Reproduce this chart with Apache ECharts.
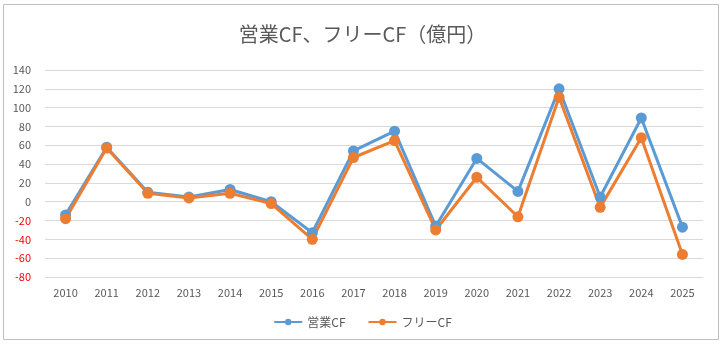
<!DOCTYPE html>
<html>
<head>
<meta charset="utf-8">
<script src="https://cdn.jsdelivr.net/npm/echarts@6/dist/echarts.min.js"></script>
<style>
  html, body {margin: 0; padding: 0; background: #fff;}
  #chart {width: 725px; height: 350px;}
</style>
</head>
<body>
<div id="chart"></div>
<script>
const years = ['2010', '2011', '2012', '2013', '2014', '2015', '2016', '2017',
    '2018', '2019', '2020', '2021', '2022', '2023', '2024', '2025'];
// 営業CF
const operatingCF = [-14, 58, 10, 5, 13, 0, -33, 54, 75, -26, 46, 11, 120, 5, 89, -27];
// フリーCF
const freeCF = [-18, 57, 9, 4, 9, -2, -40, 47, 65, -30, 26, -16, 111, -6, 68, -56];

const font = '"Noto Sans CJK JP", "Noto Sans", sans-serif';
const chart = echarts.init(document.getElementById('chart'));

chart.setOption({
    animation: false,
    textStyle: {fontFamily: font},
    graphic: [{
        type: 'rect',
        shape: {x: 3.5, y: 4.5, width: 715, height: 335},
        style: {fill: 'none', stroke: '#bfbfbf', lineWidth: 1},
        silent: true
    }],
    title: {
        text: '営業CF、フリーCF（億円）',
        left: 'center',
        top: 19,
        textStyle: {fontFamily: font, fontSize: 20, fontWeight: 'normal', color: '#595959'}
    },
    legend: {
        bottom: 17,
        left: 'center',
        itemWidth: 28,
        itemHeight: 8,
        itemGap: 22,
        textStyle: {fontFamily: font, fontSize: 12, color: '#595959'},
        data: ['営業CF', 'フリーCF']
    },
    grid: {left: 45, right: 22, top: 70, bottom: 73},
    xAxis: {
        type: 'category',
        data: years,
        axisLine: {show: false},
        axisTick: {show: false},
        axisLabel: {fontFamily: font, fontSize: 11, color: '#595959', margin: 10}
    },
    yAxis: {
        type: 'value',
        min: -80,
        max: 140,
        interval: 20,
        axisLine: {show: false},
        axisTick: {show: false},
        splitLine: {lineStyle: {color: '#d9d9d9', width: 1}},
        axisLabel: {
            fontFamily: font, fontSize: 11, margin: 14,
            color: v => (Number(v) < 0 ? '#ff0000' : '#595959')
        }
    },
    series: [{
        name: '営業CF',
        type: 'line',
        data: operatingCF,
        symbol: 'circle',
        symbolSize: 11,
        color: '#5b9bd5',
        lineStyle: {width: 3, color: '#5b9bd5'},
        itemStyle: {color: '#5b9bd5'}
    }, {
        name: 'フリーCF',
        type: 'line',
        data: freeCF,
        symbol: 'circle',
        symbolSize: 11,
        color: '#ed7d31',
        lineStyle: {width: 3, color: '#ed7d31'},
        itemStyle: {color: '#ed7d31'}
    }]
});
</script>
</body>
</html>
